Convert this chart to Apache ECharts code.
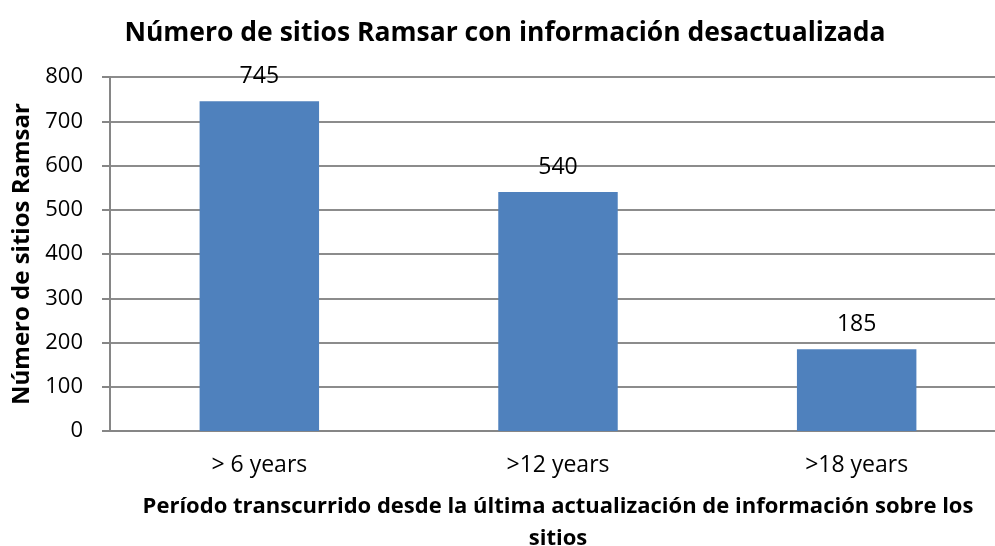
<!DOCTYPE html>
<html>
<head>
    <meta charset="utf-8"/>
    <title>Sitios Ramsar</title>
    <script src="https://cdn.jsdelivr.net/npm/echarts@6/dist/echarts.min.js"></script>
    <style type="text/css">
        body{margin:0;background:#fff;}
    </style>
</head>
<body>
<div id="main" style="width: 995px;height:546px;"></div>
<script type="text/javascript">
    var categories = ['> 6 years', '>12 years', '>18 years'];
    var sitios = [745, 540, 185];
    var yTicks = [0, 800, 100]; // min, max, interval

    var myChart = echarts.init(document.getElementById('main'));
    var font = '"Open Sans", "Liberation Sans", sans-serif';

    var option = {
        animation: false,
        title: {
            text: 'Número de sitios Ramsar con información desactualizada',
            left: 500,
            textAlign: 'center',
            top: 15,
            textStyle: {fontFamily: font, fontSize: 26.5, fontWeight: 'bold', color: '#000'}
        },
        grid: {left: 110, right: -11, top: 77, bottom: 115, outerBoundsMode: 'none'},
        xAxis: {
            type: 'category',
            data: categories,
            name: 'Período transcurrido desde la última actualización de información sobre los\nsitios',
            nameLocation: 'middle',
            nameGap: 60,
            nameTextStyle: {fontFamily: font, fontSize: 22, fontWeight: 'bold', color: '#000', lineHeight: 32},
            axisLine: {lineStyle: {color: '#868686', width: 2}},
            axisTick: {length: 8, lineStyle: {color: '#868686', width: 2}},
            axisLabel: {fontFamily: font, fontSize: 23, color: '#000', margin: 23}
        },
        yAxis: {
            type: 'value',
            min: yTicks[0],
            max: yTicks[1],
            interval: yTicks[2],
            name: 'Número de sitios Ramsar',
            nameLocation: 'middle',
            nameGap: 74,
            nameRotate: 90,
            nameTextStyle: {fontFamily: font, fontSize: 24, fontWeight: 'bold', color: '#000'},
            axisLine: {show: true, lineStyle: {color: '#868686', width: 2}},
            axisTick: {show: true, length: 8, lineStyle: {color: '#868686', width: 2}},
            axisLabel: {fontFamily: font, fontSize: 22, color: '#000', margin: 27},
            splitLine: {lineStyle: {color: '#8c8c8c', width: 2}}
        },
        series: [{
            type: 'bar',
            data: sitios,
            barWidth: '40%',
            itemStyle: {color: '#4F81BD'},
            label: {
                show: true,
                position: 'top',
                distance: 13,
                fontFamily: font,
                fontSize: 23,
                color: '#000'
            }
        }]
    };
    myChart.setOption(option);
</script>
</body>
</html>
